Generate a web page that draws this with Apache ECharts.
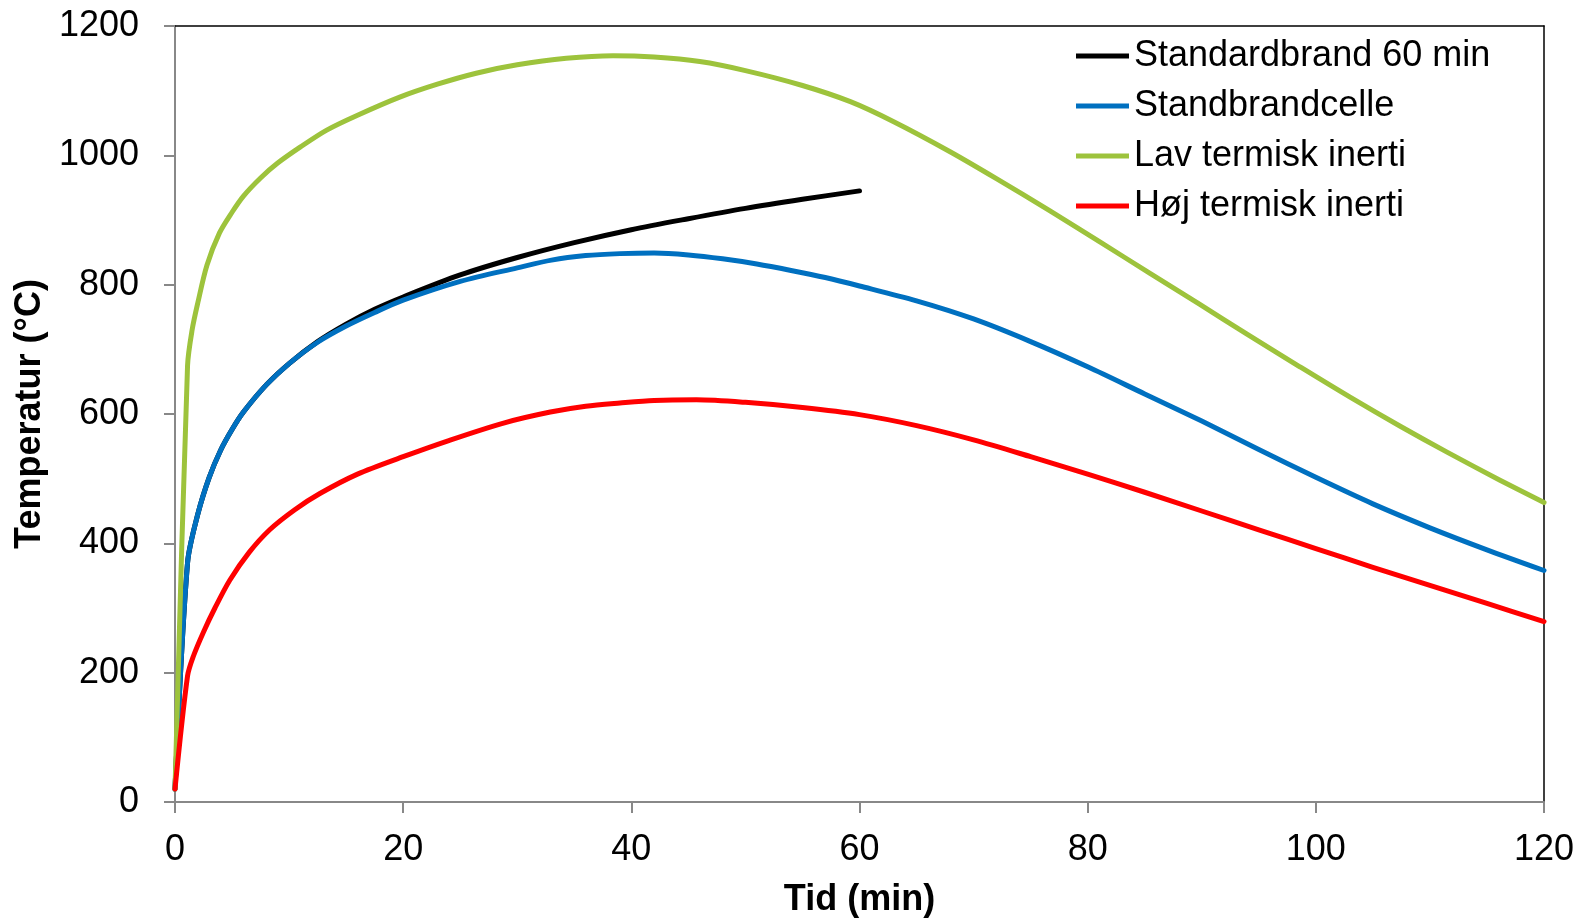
<!DOCTYPE html>
<html>
<head>
<meta charset="utf-8">
<script src="https://cdn.jsdelivr.net/npm/echarts@6/dist/echarts.min.js"></script>
<style>
html,body{margin:0;padding:0;background:#fff;}
#chart{width:1587px;height:919px;}
</style>
</head>
<body>
<div id="chart"></div>
<script>
// Series names
const seriesNames = ['Standardbrand 60 min', 'Standbrandcelle', 'Lav termisk inerti', 'Høj termisk inerti'];

// Standardbrand 60 min
const blackTime = [0, 1.1, 2, 3, 4, 5, 6, 8, 10, 12.5, 15, 17.5, 20, 25, 30, 35, 40, 45, 50, 55, 60];
const blackTemp = [20, 370, 445, 502, 544, 576, 603, 645, 678, 712, 739, 762, 781, 815, 842, 865, 885, 902, 918, 932, 945];

// Standbrandcelle
const blueTime = [0, 1.1, 2, 3, 4, 5, 6, 8, 10, 12.5, 15, 17.5, 20, 25, 30, 33, 36, 39, 42, 45, 48, 51, 54, 57, 60, 65, 70, 75, 80, 85, 90, 95, 100, 105, 110, 115, 120];
const blueTemp = [20, 370, 445, 502, 544, 576, 603, 645, 678, 711, 736, 757, 776, 805, 826, 838, 845, 848, 849, 846, 840, 832, 822, 811, 798, 775, 747, 712, 673, 631, 589, 545, 502, 461, 424, 390, 358];

// Lav termisk inerti
const greenTime = [0, 1.1, 1.5, 2, 2.8, 3.9, 5, 6, 7.5, 9, 11, 13.3, 16, 19.7, 23, 26.4, 30, 34.3, 38.4, 42, 46, 50, 55, 59.2, 63, 67.9, 72, 76.7, 81, 85.5, 89.8, 94, 98.6, 103, 107.4, 111.5, 116.1, 120];
const greenTemp = [20, 675, 730, 772, 830, 880, 912, 937, 965, 988, 1013, 1039, 1062, 1090, 1110, 1127, 1140, 1150, 1154, 1152, 1145, 1131, 1108, 1083, 1052, 1006, 964, 914, 867, 817, 770, 723, 673, 626, 581, 541, 498, 463];

// Høj termisk inerti
const redTime = [0, 1.1, 1.6, 2.5, 3.5, 4.8, 6.5, 8.3, 10.5, 12.7, 16, 20, 24, 28.8, 32.9, 36, 39, 42, 45.7, 50, 55, 60, 65, 70, 75, 80, 85, 90, 95, 100, 105, 110, 115, 120];
const redTemp = [20, 195, 225, 263, 300, 343, 386, 421, 452, 477, 507, 534, 559, 586, 603, 612, 617, 621, 622, 618, 610, 599, 582, 560, 534, 507, 479, 450, 421, 392, 363, 335, 307, 279];

// Axis ticks
const xTicks = [0, 20, 40, 60, 80, 100, 120];
const yTicks = [0, 200, 400, 600, 800, 1000, 1200];

const colors = ['#000000', '#0070C0', '#9DC33C', '#FF0000'];

function pairs(t, v) { return t.map((x, i) => [x, v[i]]); }

const FONT = "'Liberation Sans', Arial, sans-serif";
const chart = echarts.init(document.getElementById('chart'), null, {renderer: 'canvas'});

const mkSeries = (name, t, v, color) => ({
  name: name,
  type: 'line',
  data: pairs(t, v),
  showSymbol: false,
  symbol: 'none',
  smooth: 0.3,
  color: color,
  lineStyle: {color: color, width: 5, cap: 'round', join: 'round'},
  emphasis: {disabled: true},
  animation: false
});

chart.setOption({
  animation: false,
  backgroundColor: '#ffffff',
  textStyle: {fontFamily: FONT},
  grid: {left: 175, right: 43, top: 26, bottom: 117, containLabel: false, outerBoundsMode: 'none'},
  legend: {
    orient: 'vertical',
    left: 1071,
    top: 33,
    itemWidth: 53,
    itemHeight: 5,
    itemGap: 14,
    icon: 'rect',
    data: seriesNames,
    textStyle: {fontSize: 36, color: '#000', fontFamily: FONT, lineHeight: 36},
    selectedMode: false
  },
  xAxis: [{
    type: 'value',
    min: xTicks[0],
    max: xTicks[xTicks.length - 1],
    interval: xTicks[1] - xTicks[0],
    name: 'Tid (min)',
    nameLocation: 'middle',
    nameGap: 80,
    nameTextStyle: {fontSize: 36, fontWeight: 'bold', color: '#000', fontFamily: FONT},
    axisLine: {show: true, onZero: false, lineStyle: {color: '#888888', width: 2}},
    axisTick: {show: true, inside: false, length: 11, lineStyle: {color: '#888888', width: 2}},
    axisLabel: {fontSize: 36, color: '#000', margin: 30, fontFamily: FONT, formatter: v => String(v)},
    splitLine: {show: false},
    z: 5
  }, {
    type: 'value',
    position: 'top',
    min: 0, max: 120, interval: 20,
    axisLine: {show: true, onZero: false, lineStyle: {color: '#000', width: 1.5}},
    axisTick: {show: false},
    axisLabel: {show: false},
    splitLine: {show: false}
  }],
  yAxis: [{
    type: 'value',
    min: yTicks[0],
    max: yTicks[yTicks.length - 1],
    interval: yTicks[1] - yTicks[0],
    name: 'Temperatur (°C)',
    nameLocation: 'middle',
    nameGap: 114,
    nameTextStyle: {fontSize: 36, fontWeight: 'bold', color: '#000', fontFamily: FONT},
    axisLine: {show: true, onZero: false, lineStyle: {color: '#888888', width: 2}},
    axisTick: {show: true, inside: false, length: 11, lineStyle: {color: '#888888', width: 2}},
    axisLabel: {fontSize: 36, color: '#000', margin: 36, fontFamily: FONT, formatter: v => String(v)},
    splitLine: {show: false}
  }, {
    type: 'value',
    position: 'right',
    min: 0, max: 1200, interval: 200,
    axisLine: {show: true, onZero: false, lineStyle: {color: '#000', width: 1.5}},
    axisTick: {show: false},
    axisLabel: {show: false},
    splitLine: {show: false}
  }],
  series: [
    mkSeries(seriesNames[0], blackTime, blackTemp, colors[0]),
    mkSeries(seriesNames[1], blueTime, blueTemp, colors[1]),
    mkSeries(seriesNames[2], greenTime, greenTemp, colors[2]),
    mkSeries(seriesNames[3], redTime, redTemp, colors[3])
  ]
});
</script>
</body>
</html>
